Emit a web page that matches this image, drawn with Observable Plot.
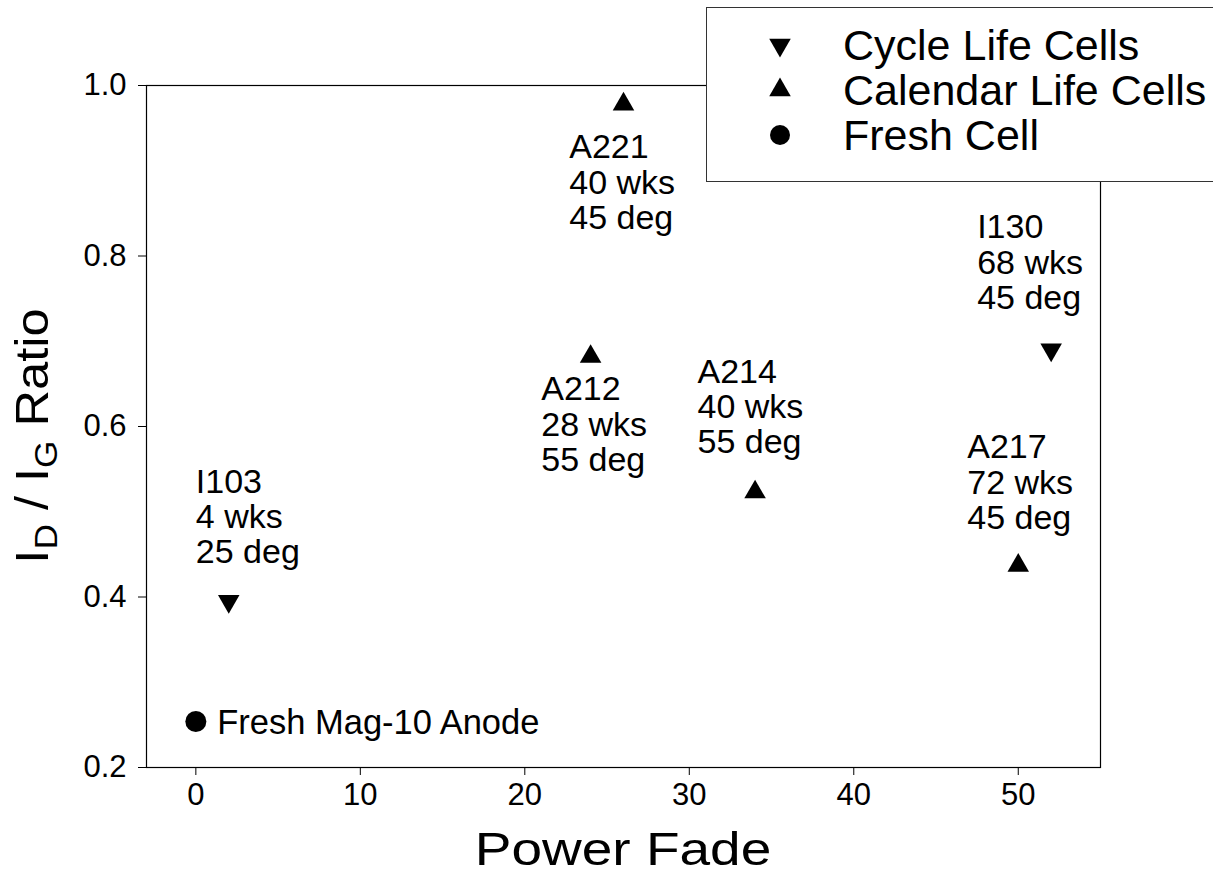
<!DOCTYPE html>
<html>
<head>
<meta charset="utf-8">
<script src="https://cdn.jsdelivr.net/npm/d3@7"></script>
<script src="https://cdn.jsdelivr.net/npm/@observablehq/plot@0.6"></script>
<style>
  html, body { margin: 0; padding: 0; background: #fff; }
  #wrap { position: relative; width: 1213px; height: 878px; overflow: hidden; font-family: "Liberation Sans", Arial, sans-serif; }
  #wrap svg.plot { position: absolute; left: 0; top: 0; }
  .ylab { position: absolute; left: 32px; top: 436px; transform: translate(-50%, -50%) rotate(-90deg) scaleX(1.1); white-space: nowrap; font-size: 46px; line-height: 46px; color: #000; }
  .ylab sub { font-size: 32px; vertical-align: -9px; line-height: 0; }
  .xlab { position: absolute; left: 623px; top: 848px; transform: translate(-50%, -50%) scaleX(1.17); white-space: nowrap; font-size: 47px; line-height: 47px; }
  .legend { position: absolute; left: 706px; top: 7px; width: 600px; height: 175px; border: 1.5px solid #333; background: #fff; box-sizing: border-box; }
  .legend .row { position: absolute; left: 0; height: 40px; }
  .legend .row svg { position: absolute; left: 58px; top: 0; }
  .legend .row span { position: absolute; left: 136px; font-size: 43px; white-space: nowrap; line-height: 40px; top: 0; }
</style>
</head>
<body>
<div id="wrap"></div>
<script>
// Data
const seriesNames = ["Cycle Life Cells", "Calendar Life Cells", "Fresh Cell"];
const cellIds     = ["Fresh", "I103", "A221", "A212", "A214", "I130", "A217"];
const cellSeries  = ["Fresh Cell", "Cycle Life Cells", "Calendar Life Cells", "Calendar Life Cells", "Calendar Life Cells", "Cycle Life Cells", "Calendar Life Cells"];
const powerFade   = [0, 2, 26, 24, 34, 52, 50];
const idIgRatio   = [0.254, 0.395, 0.978, 0.682, 0.523, 0.69, 0.437];
const cellNotes   = ["Fresh Mag-10 Anode", "I103\n4 wks\n25 deg", "A221\n40 wks\n45 deg", "A212\n28 wks\n55 deg", "A214\n40 wks\n55 deg", "I130\n68 wks\n45 deg", "A217\n72 wks\n45 deg"];
// annotation anchor (data units): left edge / top of text block
const noteX = [1.3, 0, 22.7, 21.0, 30.5, 47.5, 46.9];
const noteY = [0.252, 0.552, 0.944, 0.66, 0.681, 0.85, 0.592];
const xTicks = [0, 10, 20, 30, 40, 50];
const yTicks = [0.2, 0.4, 0.6, 0.8, 1.0];

const data = cellIds.map((id, i) => ({
  id, series: cellSeries[i], x: powerFade[i], y: idIgRatio[i],
  note: cellNotes[i], nx: noteX[i], ny: noteY[i]
}));

const font = '"Liberation Sans", Arial, sans-serif';

const plot = Plot.plot({
  width: 1213,
  height: 878,
  marginLeft: 146,
  marginRight: 113,
  marginTop: 85,
  marginBottom: 111,
  style: { fontFamily: font, fontSize: "31px", color: "#000", background: "transparent" },
  x: { domain: [-3, 55], ticks: xTicks, tickSize: 8, tickPadding: 7, label: null },
  y: { domain: [0.2, 1.0], ticks: yTicks, tickSize: 8, tickPadding: 12, tickFormat: d3.format(".1f"), label: null },
  marks: [
    Plot.frame({ stroke: "#000", strokeWidth: 1.2 }),
    Plot.dot(data.filter(d => d.series === "Cycle Life Cells"), { x: "x", y: "y", symbol: "triangle", r: 8, fill: "#000", stroke: "none", rotate: 180 }),
    Plot.dot(data.filter(d => d.series === "Calendar Life Cells"), { x: "x", y: "y", symbol: "triangle", r: 8, fill: "#000", stroke: "none" }),
    Plot.dot(data.filter(d => d.series === "Fresh Cell"), { x: "x", y: "y", symbol: "circle", r: 10.5, fill: "#000", stroke: "none" }),
    Plot.text(data.filter(d => d.series !== "Fresh Cell"), { x: "nx", y: "ny", text: "note", textAnchor: "start", lineAnchor: "top", lineHeight: 1.04, fontSize: 34, fill: "#000" }),
    Plot.text(data.filter(d => d.series === "Fresh Cell"), { x: "nx", y: "ny", text: "note", textAnchor: "start", lineAnchor: "middle", fontSize: 34.5, fill: "#000" })
  ]
});
plot.classList.add("plot");
const wrap = document.getElementById("wrap");
wrap.appendChild(plot);

// Axis titles
const ylab = document.createElement("div");
ylab.className = "ylab";
ylab.innerHTML = "I<sub>D</sub> / I<sub>G</sub> Ratio";
wrap.appendChild(ylab);
const xlab = document.createElement("div");
xlab.className = "xlab";
xlab.textContent = "Power Fade";
wrap.appendChild(xlab);

// Legend
const legend = document.createElement("div");
legend.className = "legend";
const legendSymbols = [
  { sym: d3.symbolTriangle, rot: 180, size: Math.PI * 64 },
  { sym: d3.symbolTriangle, rot: 0, size: Math.PI * 64 },
  { sym: d3.symbolCircle, rot: 0, size: Math.PI * 100 }
];
const rowTops = [17, 62, 107];
seriesNames.forEach((name, i) => {
  const row = document.createElement("div");
  row.className = "row";
  row.style.top = rowTops[i] + "px";
  const s = d3.create("svg").attr("width", 30).attr("height", 40);
  s.append("path")
    .attr("d", d3.symbol(legendSymbols[i].sym, legendSymbols[i].size)())
    .attr("transform", `translate(15,20) rotate(${legendSymbols[i].rot})`)
    .attr("fill", "#000");
  row.appendChild(s.node());
  const t = document.createElement("span");
  t.textContent = name;
  row.appendChild(t);
  legend.appendChild(row);
});
wrap.appendChild(legend);
</script>
</body>
</html>
